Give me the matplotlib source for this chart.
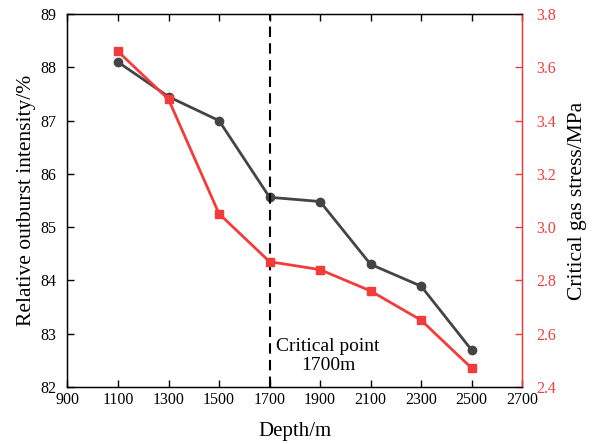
import matplotlib

matplotlib.use("Agg")
import matplotlib.pyplot as plt

plt.rcParams["font.family"] = ["Liberation Serif", "DejaVu Serif"]
plt.rcParams["mathtext.fontset"] = "stix"

depth = [1100, 1300, 1500, 1700, 1900, 2100, 2300, 2500]
intensity = [88.10, 87.45, 87.00, 85.56, 85.48, 84.30, 83.89, 82.69]
gas_stress = [3.66, 3.48, 3.05, 2.87, 2.84, 2.76, 2.65, 2.47]
critical_depth = 1700

BLACK = "#444444"
RED = "#f23b3b"

fig = plt.figure(figsize=(5.92, 4.44), dpi=100)
ax = fig.add_axes([0.114, 0.129, 0.768, 0.839])
ax2 = ax.twinx()

ax.plot(depth, intensity, color=BLACK, marker="o", markersize=6, linewidth=2)
ax2.plot(depth, gas_stress, color=RED, marker="s", markersize=5.5, linewidth=2)
ax.axvline(critical_depth, color="black", linestyle=(0, (5, 3)), linewidth=1.5)
ax.text(1932, 82.57, "Critical point\n1700m", ha="center", va="center",
        fontsize=14, linespacing=1.15)

ax.set_xlim(900, 2700)
ax.set_xticks(range(900, 2701, 200))
ax.set_ylim(82, 89)
ax.set_yticks(range(82, 90))
ax2.set_ylim(2.4, 3.8)
ax2.set_yticks([2.4, 2.6, 2.8, 3.0, 3.2, 3.4, 3.6, 3.8])
ax2.set_yticklabels([f"{v:.1f}" for v in ax2.get_yticks()])

ax.tick_params(direction="in", labelsize=11.5, top=True, length=5, width=1)
ax.tick_params(axis="x", pad=4)
ax.tick_params(axis="y", pad=8)
ax2.tick_params(direction="in", labelsize=11.5, colors=RED, length=5, width=1,
                pad=10)
ax2.spines["right"].set_color(RED)
for side in ("left", "top", "bottom"):
    ax.spines[side].set_linewidth(1)
ax2.spines["right"].set_linewidth(1)

ax.set_xlabel("Depth/m", fontsize=15, labelpad=10)
ax.set_ylabel("Relative outburst intensity/%", fontsize=15.5, labelpad=3)
ax2.set_ylabel("Critical gas stress/MPa", fontsize=15.5, labelpad=9)

fig.savefig("out.png", dpi=100)
